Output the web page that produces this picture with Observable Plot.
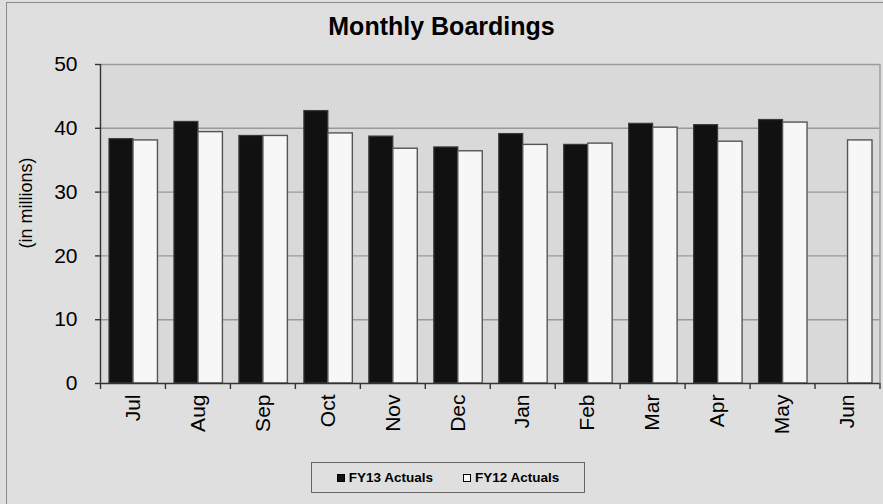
<!DOCTYPE html>
<html>
<head>
<meta charset="utf-8">
<script src="https://cdn.jsdelivr.net/npm/d3@7"></script>
<script src="https://cdn.jsdelivr.net/npm/@observablehq/plot@0.6"></script>
<style>
  html, body { margin: 0; padding: 0; background: #e4e4e4; }
  #wrap { position: relative; width: 883px; height: 504px; background: #dfdfdf; overflow: hidden;
          font-family: "Liberation Sans", Arial, sans-serif; }
  #border { position: absolute; left: 6px; top: 2px; width: 880px; height: 510px; border: 1px solid #8a8a8a; box-sizing: border-box; pointer-events: none; }
  #title { position: absolute; left: 0; width: 883px; top: 12px; text-align: center; font-weight: bold; font-size: 25px; color: #000; }
  #ylabel { position: absolute; left: 26px; top: 203px; transform: translate(-50%, -50%) rotate(-90deg); font-size: 18px; white-space: nowrap; color: #000; }
  #legend { position: absolute; left: 311px; top: 462px; width: 274px; height: 31px; border: 1px solid #666; box-sizing: border-box;
            display: flex; align-items: center; justify-content: center; gap: 30px; font-weight: bold; font-size: 13.5px; color: #000; }
  .item { display: flex; align-items: center; gap: 4px; }
  .sw { width: 8px; height: 8px; box-sizing: border-box; border: 1px solid #000; }
  #chart { position: absolute; left: 0; top: 0; }
</style>
</head>
<body>
<div id="wrap">
  <div id="chart"></div>
  <div id="border"></div>
  <div id="title">Monthly Boardings</div>
  <div id="ylabel">(in millions)</div>
  <div id="legend"></div>
</div>
<script>
const months = ["Jul","Aug","Sep","Oct","Nov","Dec","Jan","Feb","Mar","Apr","May","Jun"];
const fy13 = [38.3, 41.0, 38.8, 42.7, 38.7, 37.0, 39.1, 37.4, 40.7, 40.5, 41.3, null];
const fy12 = [38.1, 39.4, 38.8, 39.2, 36.8, 36.4, 37.4, 37.6, 40.1, 37.9, 40.9, 38.1];
const yTicks = [0, 10, 20, 30, 40, 50];
const seriesNames = ["FY13 Actuals", "FY12 Actuals"];
const seriesFill = ["#111111", "#f7f7f7"];

const W = 883, H = 504, mL = 100, mR = 3.5, mT = 64, mB = 121;
const band = (W - mL - mR) / months.length;

const d13 = months.map((m, i) => ({month: m, value: fy13[i]})).filter(d => d.value != null);
const d12 = months.map((m, i) => ({month: m, value: fy12[i]})).filter(d => d.value != null);

const chart = Plot.plot({
  width: W, height: H,
  marginLeft: mL, marginRight: mR, marginTop: mT, marginBottom: mB,
  style: {background: "transparent", fontFamily: "Liberation Sans, Arial, sans-serif", color: "#000"},
  x: {domain: months, padding: 0, round: false, axis: null},
  y: {domain: [0, 50], axis: null},
  marks: [
    Plot.frame({fill: "#d9d9d9", stroke: null}),
    Plot.ruleY(yTicks.filter(t => t > 0), {stroke: "#9a9a9a", strokeWidth: 1.4}),
    Plot.ruleX([months[months.length - 1]], {dx: band / 2, stroke: "#9a9a9a", strokeWidth: 1.4}),
    Plot.barY(d13, {x: "month", y: "value", fill: seriesFill[0], stroke: "#3a3a3a", strokeWidth: 1.2, insetLeft: 9, insetRight: 32}),
    Plot.barY(d12, {x: "month", y: "value", fill: seriesFill[1], stroke: "#555", strokeWidth: 1.4, insetLeft: 33, insetRight: 7.5}),
    Plot.ruleX([months[0]], {dx: -band / 2, stroke: "#333", strokeWidth: 1.4}),
    Plot.ruleY([0], {stroke: "#333", strokeWidth: 1.4}),
    Plot.ruleX(months, {y1: 0, y2: 0, dx: -band / 2, insetBottom: -6, stroke: "#333", strokeWidth: 1.4}),
    Plot.ruleX([months[months.length - 1]], {y1: 0, y2: 0, dx: band / 2, insetBottom: -6, stroke: "#333", strokeWidth: 1.4}),
    Plot.axisY(yTicks, {anchor: "left", tickSize: 5, tickPadding: 18, fontSize: 21, stroke: "#333", strokeWidth: 1.4, label: null}),
    Plot.axisX(months, {anchor: "bottom", tickSize: 0, tickPadding: 11, tickRotate: -90, fontSize: 21, label: null})
  ]
});
document.getElementById("chart").appendChild(chart);

const legend = document.getElementById("legend");
seriesNames.forEach((name, i) => {
  const it = document.createElement("div");
  it.className = "item";
  const sw = document.createElement("div");
  sw.className = "sw";
  sw.style.background = seriesFill[i];
  const tx = document.createElement("span");
  tx.textContent = name;
  it.appendChild(sw); it.appendChild(tx);
  legend.appendChild(it);
});
</script>
</body>
</html>
